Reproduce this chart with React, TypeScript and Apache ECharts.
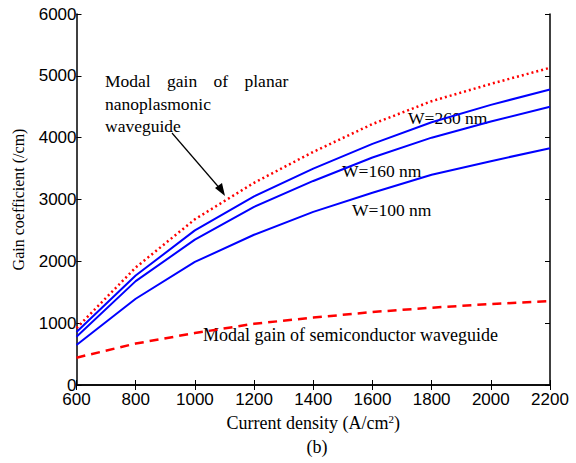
import React, { useEffect, useRef } from "react";
import * as echarts from "echarts";

const currentDensity = [600, 800, 1000, 1200, 1400, 1600, 1800, 2000, 2200];
const planarGain = [920, 1900, 2680, 3270, 3770, 4220, 4590, 4870, 5130];
const w260 = [856, 1770, 2500, 3050, 3500, 3900, 4250, 4530, 4780];
const w160 = [781, 1680, 2350, 2880, 3300, 3680, 4000, 4260, 4500];
const w100 = [646, 1395, 1990, 2430, 2800, 3110, 3400, 3620, 3830];
const semiGain = [442, 670, 840, 990, 1090, 1180, 1250, 1310, 1356];

const pairs = (ys: number[]) => currentDensity.map((x, i) => [x, ys[i]]);

export default function App() {
  const ref = useRef<HTMLDivElement>(null);
  useEffect(() => {
    const chart = echarts.init(ref.current!, null, { renderer: "svg" });
    const serif = "Liberation Serif";
    const sans = "Liberation Sans";
    const axisCommon = {
      axisLine: { show: true, lineStyle: { color: "#000", width: 1.5 } },
      axisTick: { show: true, inside: true, length: 5, lineStyle: { color: "#000" } },
      splitLine: { show: false },
    };
    const txt = (x: number, y: number, text: string, size = 17.5) => ({
      type: "text",
      x,
      y,
      style: { text, font: `${size}px "${serif}"`, fill: "#000", align: "left", verticalAlign: "middle" },
    });
    chart.setOption({
      animation: false,
      backgroundColor: "#fff",
      grid: { left: 76.5, top: 14, right: 26, bottom: 78 },
      xAxis: [
        {
          type: "value", min: 600, max: 2200, interval: 200, position: "bottom",
          ...axisCommon,
          axisLabel: { color: "#000", fontFamily: sans, fontSize: 17, margin: 6, formatter: (v: number) => String(v) },
          name: "Current density (A/cm{sup|2})",
          nameLocation: "middle", nameGap: 28,
          nameTextStyle: {
            color: "#000", fontFamily: serif, fontSize: 18,
            rich: { sup: { fontSize: 11, verticalAlign: "top", padding: [0, 0, 9, 0], fontFamily: serif, color: "#000" } },
          },
        },
        {
          type: "value", min: 600, max: 2200, interval: 200, position: "top",
          ...axisCommon, axisLabel: { show: false },
        },
      ],
      yAxis: [
        {
          type: "value", min: 0, max: 6000, interval: 1000, position: "left",
          ...axisCommon,
          axisLabel: { color: "#000", fontFamily: sans, fontSize: 17, margin: 0, formatter: (v: number) => String(v) },
          name: "Gain coefficient (/cm)",
          nameLocation: "middle", nameGap: 50,
          nameTextStyle: { color: "#000", fontFamily: serif, fontSize: 16 },
        },
        {
          type: "value", min: 0, max: 6000, interval: 1000, position: "right",
          ...axisCommon, axisLabel: { show: false },
        },
      ],
      series: [
        { type: "line", data: pairs(semiGain), showSymbol: false, lineStyle: { color: "#ff0000", width: 2.5, type: [9, 6] } },
        { type: "line", data: pairs(w100), showSymbol: false, lineStyle: { color: "#0000ff", width: 2 } },
        { type: "line", data: pairs(w160), showSymbol: false, lineStyle: { color: "#0000ff", width: 2 } },
        { type: "line", data: pairs(w260), showSymbol: false, lineStyle: { color: "#0000ff", width: 2 } },
        { type: "line", data: pairs(planarGain), showSymbol: false, lineStyle: { color: "#ff0000", width: 2.5, type: [2, 3] } },
      ],
      graphic: [
        txt(105, 81, "Modal"),
        txt(167, 81, "gain"),
        txt(213.5, 81, "of"),
        txt(244.5, 81, "planar"),
        txt(105, 103.5, "nanoplasmonic"),
        txt(105, 126, "waveguide"),
        { type: "line", shape: { x1: 172, y1: 133, x2: 222, y2: 191 }, style: { stroke: "#000", lineWidth: 1.2 } },
        { type: "polygon", shape: { points: [[225, 196], [215, 188], [222, 183]] }, style: { fill: "#000" } },
        txt(408, 118, "W=260 nm"),
        txt(342, 171, "W=160 nm"),
        txt(352, 210, "W=100 nm"),
        txt(203, 335, "Modal gain of semiconductor waveguide", 18),
        { type: "text", x: 317, y: 447, style: { text: "(b)", font: `18px "${serif}"`, fill: "#000", align: "center", verticalAlign: "middle" } },
      ],
    });
    return () => chart.dispose();
  }, []);
  return <div ref={ref} style={{ width: 576, height: 463, position: "absolute", left: 0, top: 0 }} />;
}
